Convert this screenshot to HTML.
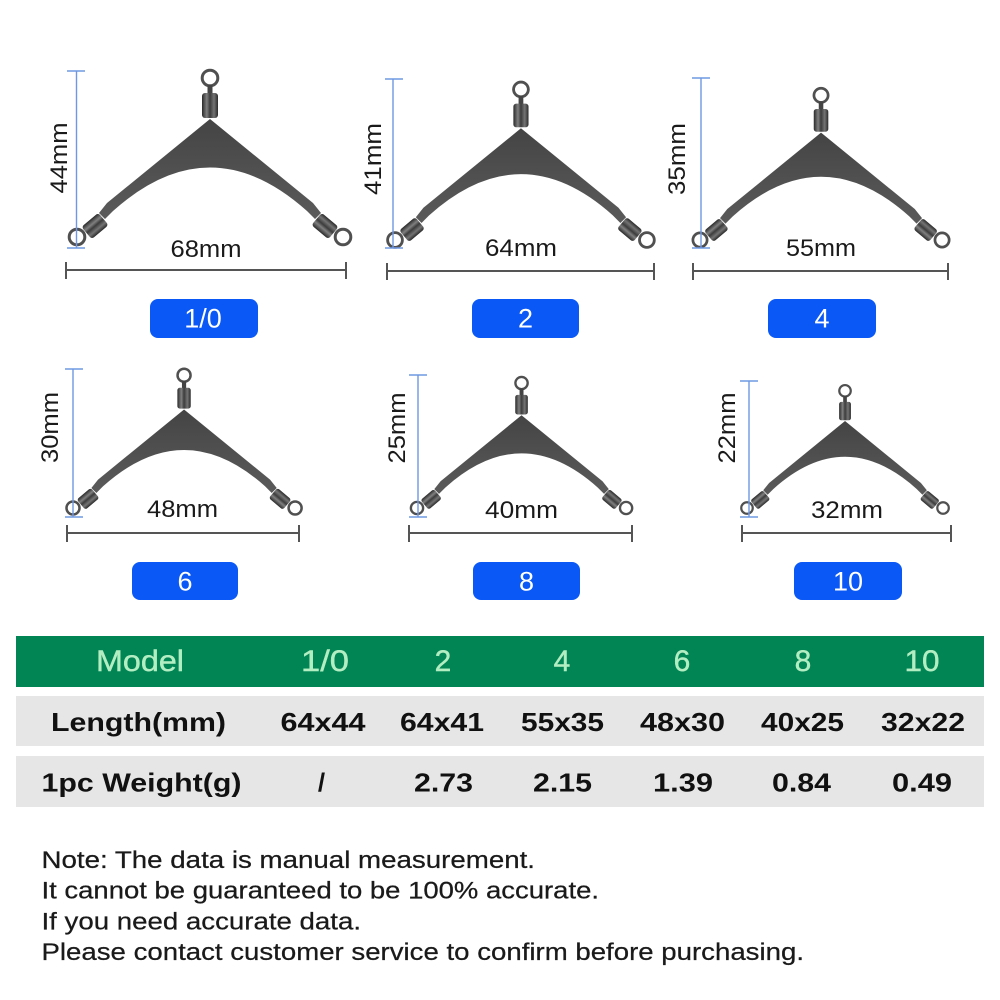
<!DOCTYPE html>
<html>
<head>
<meta charset="utf-8">
<style>
  html,body{margin:0;padding:0;background:#fff;}
  svg{display:block;}
  .dim{font-family:"Liberation Sans",Arial,sans-serif;font-size:24px;fill:#1a1a1a;}
  .btn{font-family:"Liberation Sans",Arial,sans-serif;font-size:27px;fill:#ffffff;}
  .hd{font-family:"Liberation Sans",Arial,sans-serif;font-size:30px;fill:#b3eec3;stroke:#b3eec3;stroke-width:0.4;}
  .rw{font-family:"Liberation Sans",Arial,sans-serif;font-size:26px;font-weight:bold;fill:#111;}
  .note{font-family:"Liberation Sans",Arial,sans-serif;font-size:24px;fill:#1a1a1a;stroke:#1a1a1a;stroke-width:0.25;}
</style>
</head>
<body>
<svg width="1000" height="1000" viewBox="0 0 1000 1000" xmlns="http://www.w3.org/2000/svg">
  <defs>
    <linearGradient id="barg" x1="0" y1="0" x2="1" y2="0">
      <stop offset="0" stop-color="#2a2a2a"/>
      <stop offset="0.3" stop-color="#808080"/>
      <stop offset="0.5" stop-color="#3c3c3c"/>
      <stop offset="0.75" stop-color="#747474"/>
      <stop offset="1" stop-color="#2a2a2a"/>
    </linearGradient>
    <linearGradient id="bodyg" x1="0" y1="0" x2="0" y2="1">
      <stop offset="0" stop-color="#444444"/>
      <stop offset="0.6" stop-color="#525252"/>
      <stop offset="1" stop-color="#5a5a5a"/>
    </linearGradient>
    <g id="rig">
      <path d="M210,119 L107,203 L99,213 L105,219 L113,211 Q210,124 307,211 L315,219 L321,213 L313,203 Z" fill="url(#bodyg)"/>
      <!-- top ring + barrel -->
      <circle cx="210" cy="78" r="7.8" fill="none" stroke="#505050" stroke-width="3"/>
      <rect x="207.5" y="85" width="5" height="9" fill="#444"/>
      <rect x="202" y="93" width="16" height="25" rx="3" fill="url(#barg)"/>
      <!-- left ring + barrel -->
      <circle cx="77" cy="237" r="7.8" fill="none" stroke="#505050" stroke-width="3"/>
      <g transform="translate(95,226) rotate(50)">
        <rect x="-8" y="-11" width="16" height="22" rx="3" fill="url(#barg)"/>
      </g>
      <!-- right ring + barrel -->
      <circle cx="343" cy="237" r="7.8" fill="none" stroke="#505050" stroke-width="3"/>
      <g transform="translate(325,226) rotate(-50)">
        <rect x="-8" y="-11" width="16" height="22" rx="3" fill="url(#barg)"/>
      </g>
    </g>
  </defs>

  <rect x="0" y="0" width="1000" height="1000" fill="#ffffff"/>

  <!-- ===== Item drawings ===== -->
  <use href="#rig" transform="translate(77,237) scale(1) translate(-77,-237)"/>
  <use href="#rig" transform="translate(395,240) scale(0.947) translate(-77,-237)"/>
  <use href="#rig" transform="translate(700,240) scale(0.91) translate(-77,-237)"/>
  <use href="#rig" transform="translate(73,508) scale(0.835) translate(-77,-237)"/>
  <use href="#rig" transform="translate(417,508) scale(0.786) translate(-77,-237)"/>
  <use href="#rig" transform="translate(747,508) scale(0.737) translate(-77,-237)"/>

  <!-- ===== Blue vertical dimension lines ===== -->
  <g stroke="#6f98e4" stroke-width="1.4" fill="none">
    <line x1="76.5" y1="71" x2="76.5" y2="248"/><line x1="67" y1="71" x2="85" y2="71"/><line x1="67" y1="248" x2="85" y2="248"/>
    <line x1="393" y1="79" x2="393" y2="248"/><line x1="385" y1="79" x2="403" y2="79"/><line x1="385" y1="248" x2="403" y2="248"/>
    <line x1="701" y1="78" x2="701" y2="248"/><line x1="692" y1="78" x2="710" y2="78"/><line x1="692" y1="248" x2="710" y2="248"/>
    <line x1="73" y1="369" x2="73" y2="517"/><line x1="65" y1="369" x2="83" y2="369"/><line x1="65" y1="517" x2="83" y2="517"/>
    <line x1="418" y1="375" x2="418" y2="517"/><line x1="409" y1="375" x2="427" y2="375"/><line x1="409" y1="517" x2="427" y2="517"/>
    <line x1="749" y1="381" x2="749" y2="517"/><line x1="740" y1="381" x2="758" y2="381"/><line x1="740" y1="517" x2="758" y2="517"/>
  </g>

  <!-- ===== Gray horizontal dimension lines ===== -->
  <g stroke="#555" stroke-width="2" fill="none">
    <line x1="66" y1="270" x2="346" y2="270"/><line x1="66" y1="262" x2="66" y2="279"/><line x1="346" y1="262" x2="346" y2="279"/>
    <line x1="387" y1="271" x2="654" y2="271"/><line x1="387" y1="263" x2="387" y2="280"/><line x1="654" y1="263" x2="654" y2="280"/>
    <line x1="693" y1="271" x2="948" y2="271"/><line x1="693" y1="263" x2="693" y2="280"/><line x1="948" y1="263" x2="948" y2="280"/>
    <line x1="67" y1="533" x2="299" y2="533"/><line x1="67" y1="525" x2="67" y2="542"/><line x1="299" y1="525" x2="299" y2="542"/>
    <line x1="409" y1="533" x2="632" y2="533"/><line x1="409" y1="525" x2="409" y2="542"/><line x1="632" y1="525" x2="632" y2="542"/>
    <line x1="742" y1="533" x2="951" y2="533"/><line x1="742" y1="525" x2="742" y2="542"/><line x1="951" y1="525" x2="951" y2="542"/>
  </g>

  <!-- ===== Dimension labels ===== -->
  <text class="dim" x="206" y="257" text-anchor="middle" textLength="71" lengthAdjust="spacingAndGlyphs">68mm</text>
  <text class="dim" x="521" y="256" text-anchor="middle" textLength="72" lengthAdjust="spacingAndGlyphs">64mm</text>
  <text class="dim" x="821" y="256" text-anchor="middle" textLength="70" lengthAdjust="spacingAndGlyphs">55mm</text>
  <text class="dim" x="182.5" y="517" text-anchor="middle" textLength="71" lengthAdjust="spacingAndGlyphs">48mm</text>
  <text class="dim" x="521.5" y="518" text-anchor="middle" textLength="73" lengthAdjust="spacingAndGlyphs">40mm</text>
  <text class="dim" x="847" y="518" text-anchor="middle" textLength="72" lengthAdjust="spacingAndGlyphs">32mm</text>

  <text class="dim" transform="translate(67,158) rotate(-90)" text-anchor="middle" textLength="71" lengthAdjust="spacingAndGlyphs">44mm</text>
  <text class="dim" transform="translate(381,159) rotate(-90)" text-anchor="middle" textLength="72" lengthAdjust="spacingAndGlyphs">41mm</text>
  <text class="dim" transform="translate(685,159) rotate(-90)" text-anchor="middle" textLength="72" lengthAdjust="spacingAndGlyphs">35mm</text>
  <text class="dim" transform="translate(58,427.5) rotate(-90)" text-anchor="middle" textLength="71" lengthAdjust="spacingAndGlyphs">30mm</text>
  <text class="dim" transform="translate(405,428) rotate(-90)" text-anchor="middle" textLength="71" lengthAdjust="spacingAndGlyphs">25mm</text>
  <text class="dim" transform="translate(735,428) rotate(-90)" text-anchor="middle" textLength="71" lengthAdjust="spacingAndGlyphs">22mm</text>

  <!-- ===== Blue model buttons ===== -->
  <g fill="#0a58f5">
    <rect x="150" y="299" width="108" height="39" rx="8"/>
    <rect x="472" y="299" width="107" height="39" rx="8"/>
    <rect x="768" y="299" width="108" height="39" rx="8"/>
    <rect x="132" y="562" width="106" height="38" rx="8"/>
    <rect x="473" y="562" width="107" height="38" rx="8"/>
    <rect x="794" y="562" width="108" height="38" rx="8"/>
  </g>
  <text class="btn" x="203" y="327.5" text-anchor="middle">1/0</text>
  <text class="btn" x="525.5" y="327.5" text-anchor="middle">2</text>
  <text class="btn" x="822" y="327.5" text-anchor="middle">4</text>
  <text class="btn" x="185" y="590.5" text-anchor="middle">6</text>
  <text class="btn" x="526.5" y="590.5" text-anchor="middle">8</text>
  <text class="btn" x="848" y="590.5" text-anchor="middle">10</text>

  <!-- ===== Table ===== -->
  <rect x="16" y="636" width="968" height="51" fill="#028555"/>
  <rect x="16" y="696" width="968" height="50" fill="#e6e6e6"/>
  <rect x="16" y="756" width="968" height="51" fill="#e6e6e6"/>

  <text class="hd" x="140" y="671" text-anchor="middle" textLength="88" lengthAdjust="spacingAndGlyphs">Model</text>
  <text class="hd" x="325" y="671" text-anchor="middle" textLength="48" lengthAdjust="spacingAndGlyphs">1/0</text>
  <text class="hd" x="443" y="671" text-anchor="middle">2</text>
  <text class="hd" x="562" y="671" text-anchor="middle">4</text>
  <text class="hd" x="682" y="671" text-anchor="middle">6</text>
  <text class="hd" x="803" y="671" text-anchor="middle">8</text>
  <text class="hd" x="922" y="671" text-anchor="middle" textLength="35" lengthAdjust="spacingAndGlyphs">10</text>

  <text class="rw" x="138.5" y="731" text-anchor="middle" textLength="175" lengthAdjust="spacingAndGlyphs">Length(mm)</text>
  <text class="rw" x="323" y="731" text-anchor="middle" textLength="85" lengthAdjust="spacingAndGlyphs">64x44</text>
  <text class="rw" x="442" y="731" text-anchor="middle" textLength="84" lengthAdjust="spacingAndGlyphs">64x41</text>
  <text class="rw" x="562.5" y="731" text-anchor="middle" textLength="83" lengthAdjust="spacingAndGlyphs">55x35</text>
  <text class="rw" x="682.5" y="731" text-anchor="middle" textLength="85" lengthAdjust="spacingAndGlyphs">48x30</text>
  <text class="rw" x="802.5" y="731" text-anchor="middle" textLength="83" lengthAdjust="spacingAndGlyphs">40x25</text>
  <text class="rw" x="923" y="731" text-anchor="middle" textLength="84" lengthAdjust="spacingAndGlyphs">32x22</text>

  <text class="rw" x="41.5" y="791.5" textLength="200" lengthAdjust="spacingAndGlyphs">1pc  Weight(g)</text>
  <text class="rw" x="321.5" y="791.5" text-anchor="middle">/</text>
  <text class="rw" x="443.5" y="791.5" text-anchor="middle" textLength="59" lengthAdjust="spacingAndGlyphs">2.73</text>
  <text class="rw" x="562.5" y="791.5" text-anchor="middle" textLength="59" lengthAdjust="spacingAndGlyphs">2.15</text>
  <text class="rw" x="683" y="791.5" text-anchor="middle" textLength="60" lengthAdjust="spacingAndGlyphs">1.39</text>
  <text class="rw" x="801.5" y="791.5" text-anchor="middle" textLength="59" lengthAdjust="spacingAndGlyphs">0.84</text>
  <text class="rw" x="922" y="791.5" text-anchor="middle" textLength="60" lengthAdjust="spacingAndGlyphs">0.49</text>

  <!-- ===== Notes ===== -->
  <text class="note" x="41.5" y="868" textLength="493.5" lengthAdjust="spacingAndGlyphs">Note: The data is manual measurement.</text>
  <text class="note" x="41.5" y="898.7" textLength="557.5" lengthAdjust="spacingAndGlyphs">It cannot be guaranteed to be 100% accurate.</text>
  <text class="note" x="41.5" y="929.4" textLength="319.5" lengthAdjust="spacingAndGlyphs">If you need accurate data.</text>
  <text class="note" x="41.5" y="960" textLength="762.5" lengthAdjust="spacingAndGlyphs">Please contact customer service to confirm before purchasing.</text>
</svg>
</body>
</html>
